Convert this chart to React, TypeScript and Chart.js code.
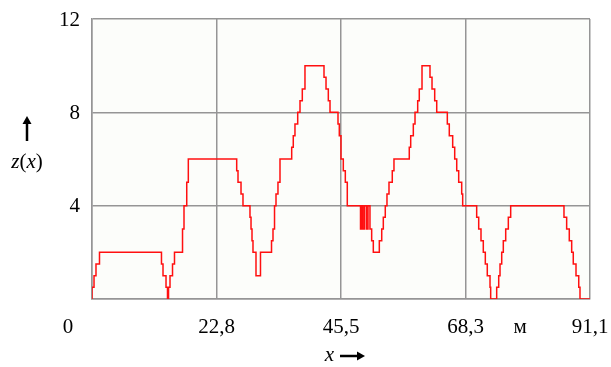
import React, { useEffect, useRef } from 'react';
import { Chart, registerables } from 'chart.js';

Chart.register(...registerables);

// Step profile: at each x the value z(x) becomes the listed level
const xs = [
  0, 0, 0.37, 0.73, 1.37,
  12.71, 12.99, 13.54, 13.81, 14.0, 14.27, 14.73, 15.09,
  16.56, 16.83, 17.33, 17.62,
  26.47, 26.71, 27.26, 27.62, 28.9, 29.09, 29.27, 29.45, 30.0, 30.82,
  32.84, 33.11, 33.39, 33.66, 34.02, 34.39,
  36.53, 36.82, 37.13, 37.63, 38.05, 38.47, 38.96,
  42.44, 42.81, 43.23, 43.54, 45.0, 45.24, 45.55, 45.97, 46.34, 46.7,
  49.12, 49.3, 49.57, 49.85, 50.21, 50.49, 50.85, 51.16, 51.46,
  52.56, 53.0, 53.29, 53.65, 53.96, 54.33, 54.93, 55.24,
  58.04, 58.3, 58.78, 59.09, 59.58, 59.87, 60.37,
  61.83, 62.2, 62.69, 63.06,
  65.0, 65.36, 65.98, 66.35, 66.72, 67.08, 67.63, 67.81,
  70.37, 70.74, 71.16, 71.58, 71.95, 72.31, 72.81, 72.93,
  74.03, 74.4, 74.64, 74.95, 75.24, 75.68, 76.16, 76.59,
  86.34, 86.83, 87.31, 87.75, 88.04, 88.54, 89.04, 89.27,
  91.1,
];
const zs = [
  0, 0.5, 1, 1.5, 2,
  1.5, 1, 0.5, 0, 0.5, 1, 1.5, 2,
  3, 4, 5, 6,
  5.5, 5, 4.5, 4, 3.5, 3, 2.5, 2, 1, 2,
  2.5, 3, 4, 4.5, 5, 6,
  6.5, 7, 7.5, 8, 8.5, 9, 10,
  9.5, 9, 8.5, 8, 7.5, 7, 6, 5.5, 5, 4,
  3, 4, 3, 4, 3, 4, 3, 2.5, 2,
  2.5, 3, 3.5, 4, 4.5, 5, 5.5, 6,
  6.5, 7, 7.5, 8, 8.5, 9, 10,
  9.5, 9, 8.5, 8,
  7.5, 7, 6.5, 6, 5.5, 5, 4.5, 4,
  3.5, 3, 2.5, 2, 1.5, 1, 0.5, 0,
  0.5, 1, 1.5, 2, 2.5, 3, 3.5, 4,
  3.5, 3, 2.5, 2, 1.5, 1, 0.5, 0,
  0,
];

const xGrid = [0, 22.775, 45.55, 68.325, 91.1];
const xTickLabels = ['0', '22,8', '45,5', '68,3', '91,1'];
const yGrid = [0, 4, 8, 12];
const yTickLabels = ['', '4', '8', '12'];
const unitLabel = 'м';
const unitAt = 78.3;
const xTitle = 'x';
const yTitle = ['z', '(', 'x', ')'];

const FONT = "'Liberation Serif', 'Times New Roman', serif";

function arrow(ctx: CanvasRenderingContext2D, x1: number, y1: number, x2: number, y2: number) {
  const ang = Math.atan2(y2 - y1, x2 - x1);
  const head = 8;
  const hw = 4.5;
  const bx = x2 - head * Math.cos(ang);
  const by = y2 - head * Math.sin(ang);
  ctx.save();
  ctx.strokeStyle = '#000';
  ctx.fillStyle = '#000';
  ctx.lineWidth = 2.5;
  ctx.beginPath();
  ctx.moveTo(x1, y1);
  ctx.lineTo(bx, by);
  ctx.stroke();
  ctx.beginPath();
  ctx.moveTo(x2, y2);
  ctx.lineTo(bx + hw * Math.sin(ang), by - hw * Math.cos(ang));
  ctx.lineTo(bx - hw * Math.sin(ang), by + hw * Math.cos(ang));
  ctx.closePath();
  ctx.fill();
  ctx.restore();
}

const decorPlugin = {
  id: 'decor',
  beforeDraw(chart: any) {
    const { ctx, chartArea: a } = chart;
    ctx.save();
    ctx.fillStyle = '#fcfdfa';
    ctx.fillRect(a.left, a.top, a.right - a.left, a.bottom - a.top);
    ctx.restore();
  },
  afterDraw(chart: any) {
    const { ctx, chartArea: a } = chart;
    const xs_ = chart.scales.x;
    const ys_ = chart.scales.y;
    ctx.save();
    ctx.fillStyle = '#000';
    ctx.font = `21px ${FONT}`;
    ctx.textBaseline = 'middle';
    // y tick labels
    ctx.textAlign = 'right';
    yGrid.forEach((v, i) => {
      if (yTickLabels[i]) ctx.fillText(yTickLabels[i], a.left - 12, ys_.getPixelForValue(v) + 1);
    });
    // x tick labels
    ctx.textAlign = 'center';
    const ly = a.bottom + 28;
    xGrid.forEach((v, i) => {
      let px = xs_.getPixelForValue(v);
      if (i === 0) px -= 24;
      ctx.fillText(xTickLabels[i], px, ly);
    });
    ctx.fillText(unitLabel, xs_.getPixelForValue(unitAt), ly);
    // x title
    const midX = (a.left + a.right) / 2;
    ctx.font = `italic 21px ${FONT}`;
    ctx.textAlign = 'right';
    ctx.fillText(xTitle, midX - 7, a.bottom + 56);
    arrow(ctx, midX - 1, a.bottom + 57, midX + 24, a.bottom + 57);
    // y title z(x)
    const parts = yTitle;
    const styles = ['italic', 'normal', 'italic', 'normal'];
    let total = 0;
    const widths = parts.map((p, i) => {
      ctx.font = `${styles[i]} 21px ${FONT}`;
      const w = ctx.measureText(p).width;
      total += w;
      return w;
    });
    let tx = 27 - total / 2;
    ctx.textAlign = 'left';
    parts.forEach((p, i) => {
      ctx.font = `${styles[i]} 21px ${FONT}`;
      ctx.fillText(p, tx, 162);
      tx += widths[i];
    });
    arrow(ctx, 27, 141, 27, 116);
    ctx.restore();
  },
};

export default function App() {
  const ref = useRef<HTMLCanvasElement>(null);
  useEffect(() => {
    const points = xs.map((x, i) => ({ x, y: zs[i] }));
    const chart = new Chart(ref.current as HTMLCanvasElement, {
      type: 'line',
      data: {
        datasets: [
          {
            data: points,
            stepped: true,
            borderColor: '#ff1010',
            borderWidth: 1.5,
            pointRadius: 0,
            fill: false,
          },
        ],
      },
      options: {
        animation: false,
        responsive: false,
        devicePixelRatio: 1,
        layout: { padding: { left: 92, top: 19, right: 21, bottom: 68 } },
        plugins: { legend: { display: false }, tooltip: { enabled: false } },
        scales: {
          x: {
            type: 'linear',
            min: 0,
            max: 91.1,
            afterBuildTicks: (scale: any) => {
              scale.ticks = xGrid.map((v) => ({ value: v }));
            },
            ticks: { display: false },
            grid: { color: '#959595', lineWidth: 1.5, drawTicks: false },
            border: { color: '#959595', width: 1.5 },
          },
          y: {
            type: 'linear',
            min: 0,
            max: 12,
            afterBuildTicks: (scale: any) => {
              scale.ticks = yGrid.map((v) => ({ value: v }));
            },
            ticks: { display: false },
            grid: { color: '#959595', lineWidth: 1.5, drawTicks: false },
            border: { color: '#959595', width: 1.5 },
          },
        },
      },
      plugins: [decorPlugin],
    });
    return () => chart.destroy();
  }, []);
  return (
    <div style={{ position: 'fixed', left: 0, top: 0, width: 611, height: 367, background: '#fff' }}>
      <canvas ref={ref} width={611} height={367} style={{ display: 'block', width: 611, height: 367 }} />
    </div>
  );
}
